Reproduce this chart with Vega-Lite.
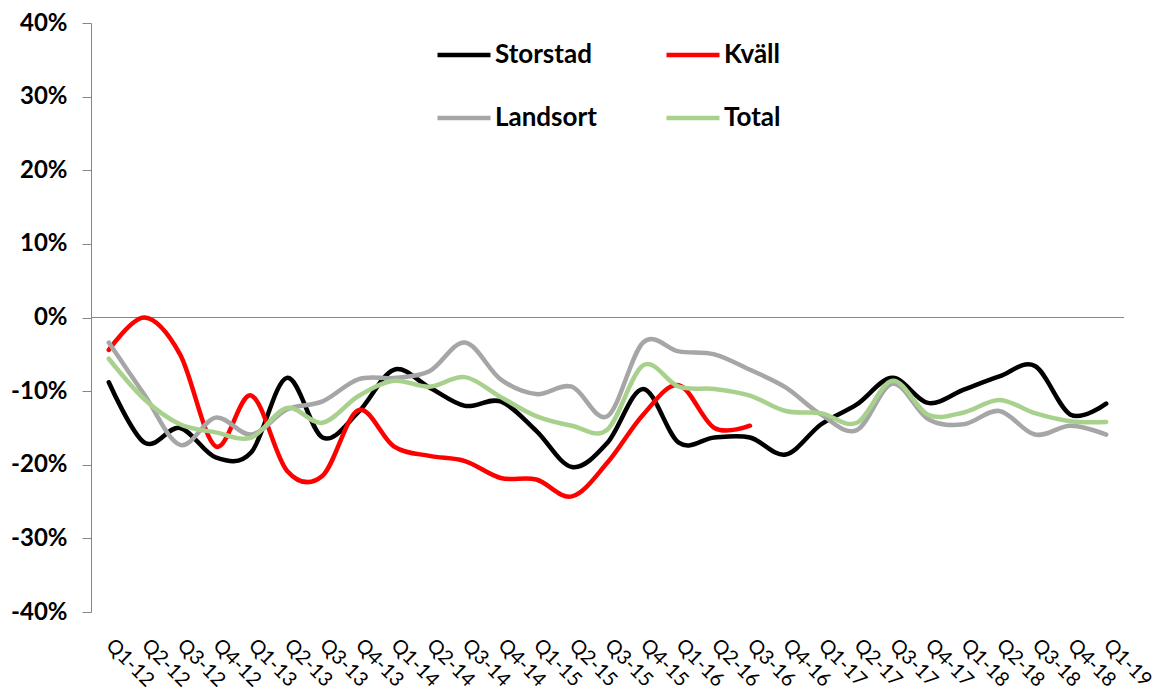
{
  "$schema": "https://vega.github.io/schema/vega-lite/v6.json",
  "width": 1033,
  "height": 589,
  "autosize": "none",
  "padding": {"left": 91, "top": 23, "right": 35, "bottom": 83},
  "background": "white",
  "config": {"view": {"stroke": null}, "font": "Lato"},
  "data": {"values": [
    {"q": "Q1-12", "s": "Storstad", "v": -8.8},
    {"q": "Q2-12", "s": "Storstad", "v": -17.0},
    {"q": "Q3-12", "s": "Storstad", "v": -15.0},
    {"q": "Q4-12", "s": "Storstad", "v": -19.0},
    {"q": "Q1-13", "s": "Storstad", "v": -18.3},
    {"q": "Q2-13", "s": "Storstad", "v": -8.2},
    {"q": "Q3-13", "s": "Storstad", "v": -16.3},
    {"q": "Q4-13", "s": "Storstad", "v": -12.9},
    {"q": "Q1-14", "s": "Storstad", "v": -7.1},
    {"q": "Q2-14", "s": "Storstad", "v": -9.5},
    {"q": "Q3-14", "s": "Storstad", "v": -12.0},
    {"q": "Q4-14", "s": "Storstad", "v": -11.4},
    {"q": "Q1-15", "s": "Storstad", "v": -15.4},
    {"q": "Q2-15", "s": "Storstad", "v": -20.3},
    {"q": "Q3-15", "s": "Storstad", "v": -17.0},
    {"q": "Q4-15", "s": "Storstad", "v": -9.7},
    {"q": "Q1-16", "s": "Storstad", "v": -17.0},
    {"q": "Q2-16", "s": "Storstad", "v": -16.3},
    {"q": "Q3-16", "s": "Storstad", "v": -16.3},
    {"q": "Q4-16", "s": "Storstad", "v": -18.6},
    {"q": "Q1-17", "s": "Storstad", "v": -14.5},
    {"q": "Q2-17", "s": "Storstad", "v": -11.8},
    {"q": "Q3-17", "s": "Storstad", "v": -8.2},
    {"q": "Q4-17", "s": "Storstad", "v": -11.6},
    {"q": "Q1-18", "s": "Storstad", "v": -9.8},
    {"q": "Q2-18", "s": "Storstad", "v": -8.0},
    {"q": "Q3-18", "s": "Storstad", "v": -6.6},
    {"q": "Q4-18", "s": "Storstad", "v": -13.2},
    {"q": "Q1-19", "s": "Storstad", "v": -11.7},
    {"q": "Q1-12", "s": "Kväll", "v": -4.4},
    {"q": "Q2-12", "s": "Kväll", "v": 0.0},
    {"q": "Q3-12", "s": "Kväll", "v": -5.0},
    {"q": "Q4-12", "s": "Kväll", "v": -17.5},
    {"q": "Q1-13", "s": "Kväll", "v": -10.6},
    {"q": "Q2-13", "s": "Kväll", "v": -20.8},
    {"q": "Q3-13", "s": "Kväll", "v": -21.5},
    {"q": "Q4-13", "s": "Kväll", "v": -12.6},
    {"q": "Q1-14", "s": "Kväll", "v": -17.5},
    {"q": "Q2-14", "s": "Kväll", "v": -18.8},
    {"q": "Q3-14", "s": "Kväll", "v": -19.5},
    {"q": "Q4-14", "s": "Kväll", "v": -21.8},
    {"q": "Q1-15", "s": "Kväll", "v": -22.0},
    {"q": "Q2-15", "s": "Kväll", "v": -24.3},
    {"q": "Q3-15", "s": "Kväll", "v": -19.7},
    {"q": "Q4-15", "s": "Kväll", "v": -13.2},
    {"q": "Q1-16", "s": "Kväll", "v": -9.2},
    {"q": "Q2-16", "s": "Kväll", "v": -15.0},
    {"q": "Q3-16", "s": "Kväll", "v": -14.7},
    {"q": "Q1-12", "s": "Landsort", "v": -3.4},
    {"q": "Q2-12", "s": "Landsort", "v": -10.5},
    {"q": "Q3-12", "s": "Landsort", "v": -17.3},
    {"q": "Q4-12", "s": "Landsort", "v": -13.6},
    {"q": "Q1-13", "s": "Landsort", "v": -15.9},
    {"q": "Q2-13", "s": "Landsort", "v": -12.5},
    {"q": "Q3-13", "s": "Landsort", "v": -11.4},
    {"q": "Q4-13", "s": "Landsort", "v": -8.4},
    {"q": "Q1-14", "s": "Landsort", "v": -8.2},
    {"q": "Q2-14", "s": "Landsort", "v": -7.3},
    {"q": "Q3-14", "s": "Landsort", "v": -3.4},
    {"q": "Q4-14", "s": "Landsort", "v": -8.4},
    {"q": "Q1-15", "s": "Landsort", "v": -10.4},
    {"q": "Q2-15", "s": "Landsort", "v": -9.4},
    {"q": "Q3-15", "s": "Landsort", "v": -13.4},
    {"q": "Q4-15", "s": "Landsort", "v": -3.4},
    {"q": "Q1-16", "s": "Landsort", "v": -4.6},
    {"q": "Q2-16", "s": "Landsort", "v": -5.0},
    {"q": "Q3-16", "s": "Landsort", "v": -7.1},
    {"q": "Q4-16", "s": "Landsort", "v": -9.5},
    {"q": "Q1-17", "s": "Landsort", "v": -13.2},
    {"q": "Q2-17", "s": "Landsort", "v": -15.3},
    {"q": "Q3-17", "s": "Landsort", "v": -9.0},
    {"q": "Q4-17", "s": "Landsort", "v": -13.8},
    {"q": "Q1-18", "s": "Landsort", "v": -14.5},
    {"q": "Q2-18", "s": "Landsort", "v": -12.7},
    {"q": "Q3-18", "s": "Landsort", "v": -15.9},
    {"q": "Q4-18", "s": "Landsort", "v": -14.7},
    {"q": "Q1-19", "s": "Landsort", "v": -15.9},
    {"q": "Q1-12", "s": "Total", "v": -5.6},
    {"q": "Q2-12", "s": "Total", "v": -11.1},
    {"q": "Q3-12", "s": "Total", "v": -14.5},
    {"q": "Q4-12", "s": "Total", "v": -15.6},
    {"q": "Q1-13", "s": "Total", "v": -16.3},
    {"q": "Q2-13", "s": "Total", "v": -12.3},
    {"q": "Q3-13", "s": "Total", "v": -14.3},
    {"q": "Q4-13", "s": "Total", "v": -10.7},
    {"q": "Q1-14", "s": "Total", "v": -8.6},
    {"q": "Q2-14", "s": "Total", "v": -9.4},
    {"q": "Q3-14", "s": "Total", "v": -8.1},
    {"q": "Q4-14", "s": "Total", "v": -10.8},
    {"q": "Q1-15", "s": "Total", "v": -13.4},
    {"q": "Q2-15", "s": "Total", "v": -14.7},
    {"q": "Q3-15", "s": "Total", "v": -15.2},
    {"q": "Q4-15", "s": "Total", "v": -6.5},
    {"q": "Q1-16", "s": "Total", "v": -9.4},
    {"q": "Q2-16", "s": "Total", "v": -9.7},
    {"q": "Q3-16", "s": "Total", "v": -10.6},
    {"q": "Q4-16", "s": "Total", "v": -12.7},
    {"q": "Q1-17", "s": "Total", "v": -13.0},
    {"q": "Q2-17", "s": "Total", "v": -14.3},
    {"q": "Q3-17", "s": "Total", "v": -8.6},
    {"q": "Q4-17", "s": "Total", "v": -13.2},
    {"q": "Q1-18", "s": "Total", "v": -12.9},
    {"q": "Q2-18", "s": "Total", "v": -11.2},
    {"q": "Q3-18", "s": "Total", "v": -13.0},
    {"q": "Q4-18", "s": "Total", "v": -14.1},
    {"q": "Q1-19", "s": "Total", "v": -14.2}
  ]},
  "layer": [
    {
      "mark": {"type": "rule", "color": "#868686", "strokeWidth": 1},
      "encoding": {"y": {"datum": 0, "type": "quantitative"}}
    },
    {
      "mark": {"type": "line", "interpolate": "cardinal", "strokeWidth": 4.5, "strokeCap": "round"},
      "encoding": {
        "x": {
          "field": "q", "type": "ordinal", "sort": null, "title": null,
          "axis": {"domain": false, "ticks": false, "labelAngle": 45, "labelAlign": "left", "labelBaseline": "middle",
                   "labelPadding": 30, "labelFont": "Lato", "labelFontSize": 20, "labelColor": "#000000", "labelOverlap": false}
        },
        "y": {
          "field": "v", "type": "quantitative", "title": null,
          "scale": {"domain": [-40, 40], "nice": false, "zero": false},
          "axis": {"values": [-40, -30, -20, -10, 0, 10, 20, 30, 40], "grid": false,
                   "domainColor": "#868686", "tickColor": "#868686", "tickSize": 9, "labelPadding": 15,
                   "labelFont": "Lato", "labelFontWeight": "bold", "labelFontSize": 24, "labelColor": "#000000",
                   "labelExpr": "datum.value + '%'"}
        },
        "color": {
          "field": "s", "type": "nominal",
          "scale": {"domain": ["Storstad", "Landsort", "Kväll", "Total"], "range": ["#000000", "#A6A6A6", "#FF0000", "#A9D18E"]},
          "legend": {"title": null, "orient": "none", "legendX": 344, "legendY": 3, "columns": 2,
                     "symbolType": "stroke", "symbolSize": 2809, "symbolStrokeWidth": 4.5,
                     "labelFont": "Lato", "labelFontWeight": "bold", "labelFontSize": 26, "labelColor": "#000000",
                     "labelOffset": 2, "columnPadding": 60, "rowPadding": 21, "padding": 0}
        }
      }
    }
  ]
}
